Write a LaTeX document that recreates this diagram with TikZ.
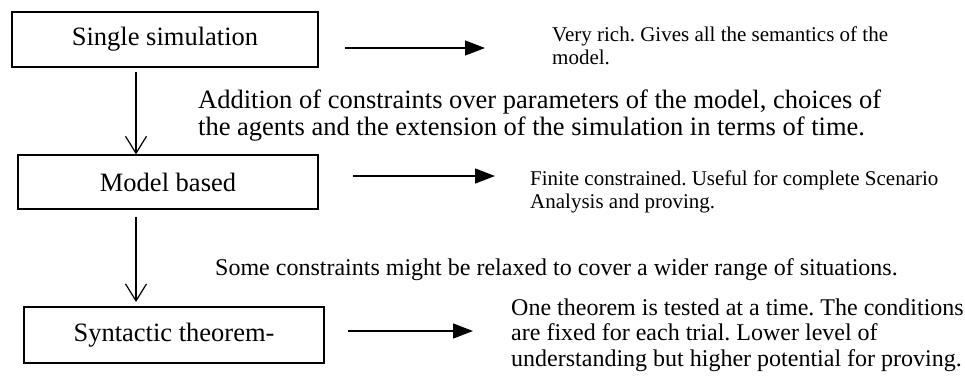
\documentclass[tikz,border=0pt]{standalone}
\usepackage{fontspec}
\setmainfont{Liberation Serif}
\frenchspacing
\usetikzlibrary{arrows.meta}
\begin{document}
\begin{tikzpicture}[x=1pt,y=-1pt,
  stagebox/.style={draw,line width=1.2pt,inner sep=0pt,font=\fontsize{26.5}{30}\selectfont},
  hline/.style={line width=1.2pt,-{Triangle[length=20pt,width=15pt]}},
  vline/.style={line width=1.2pt,-{Straight Barb[length=17pt,width=21pt,line width=1.2pt]}},
  smalltxt/.style={anchor=base west,inner sep=0pt,align=left,font=\fontsize{21}{23.5}\selectfont},
  midtxt/.style={anchor=base west,inner sep=0pt,align=left,font=\fontsize{24}{25.5}\selectfont},
  bigtxt/.style={anchor=base west,inner sep=0pt,align=left,font=\fontsize{26.5}{27}\selectfont}]
\useasboundingbox (0,0) rectangle (965,376);
\node[stagebox,minimum width=306pt,minimum height=55pt] (b1) at (165,39.5) {Single simulation};
\node[stagebox,minimum width=300pt,minimum height=54pt] (b2) at (168,182) {Model based};
\node[stagebox,minimum width=300pt,minimum height=56pt] (b3) at (174,335) {Syntactic theorem-};
% multi-line nodes: base anchor is the baseline of the last line
\node[smalltxt] (t1) at (552,64.5) {Very rich. Gives all the semantics of the\\model.};
\node[bigtxt] (t2) at (198,135) {Addition of constraints over parameters of the model, choices of\\the agents and the extension of the simulation in terms of time.};
\node[smalltxt] (t3) at (530,208.5) {Finite constrained. Useful for complete Scenario\\Analysis and proving.};
\node[midtxt] (t4) at (215,275) {Some constraints might be relaxed to cover a wider range of situations.};
\node[midtxt] (t5) at (511,366) {One theorem is tested at a time. The conditions\\are fixed for each trial. Lower level of\\understanding but higher potential for proving.};
\coordinate (h1s) at (345,48);
\coordinate (h1e) at (485,48);
\coordinate (h2s) at (353,176);
\coordinate (h2e) at (495,176);
\coordinate (h3s) at (348,331);
\coordinate (h3e) at (473,331);
\coordinate (v1s) at (136,72);
\coordinate (v2s) at (136,217);
\coordinate (v2e) at (136,302);
\draw[hline] (h1s) -- (h1e);
\draw[hline] (h2s) -- (h2e);
\draw[hline] (h3s) -- (h3e);
\draw[vline] (v1s) -- (v1s |- b2.north);
\draw[vline] (v2s) -- (v2e);
\end{tikzpicture}
\end{document}
